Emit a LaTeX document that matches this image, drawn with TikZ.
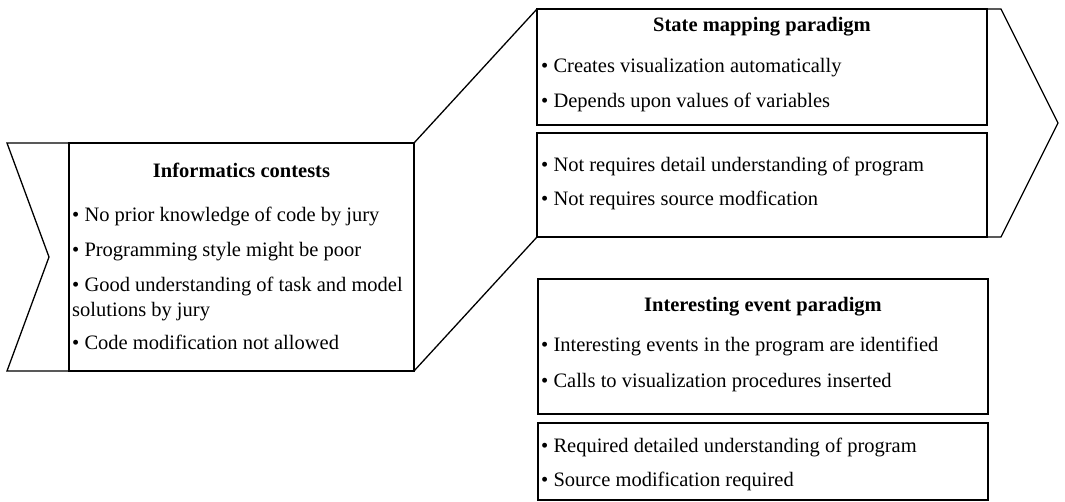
\documentclass[tikz,border=0pt]{standalone}
\usepackage{fontspec}
\setmainfont{Liberation Serif}
\begin{document}
\begin{tikzpicture}[x=1pt,y=-1pt,
  outline/.style={draw=black, line width=1.3pt, line join=miter},
  panel/.style={draw=black, line width=1.3pt, rectangle, inner sep=0pt, outer sep=0pt},
  item/.style={anchor=base west, inner sep=0pt, font=\fontsize{20.5}{25}\selectfont},
  heading/.style={anchor=base, inner sep=0pt, font=\fontsize{20.5}{25}\selectfont\bfseries}]
\useasboundingbox (0,0) rectangle (1065,502);

% left notched block
\node[panel, minimum width=345, minimum height=228] (ic) at (241.5,257) {};
\coordinate (icTL) at (7,143);
\coordinate (icBL) at (7,371);
\coordinate (notch) at (49,257);
\draw[outline] (ic.north west) -- (icTL) -- (notch) -- (icBL) -- (ic.south west);

% state mapping panels
\node[panel, minimum width=450, minimum height=116] (sm1) at (762,67) {};
\node[panel, minimum width=450, minimum height=104] (sm2) at (762,185) {};

% arrow-shaped band around the state mapping panels
\coordinate (tipTop) at (1001,9);
\coordinate (tip) at (1058,123);
\coordinate (tipBot) at (1001,237);
\draw[outline] (ic.north east) -- (sm1.north west) -- (tipTop) -- (tip) -- (tipBot)
  -- (sm2.south west) -- (ic.south east);

% interesting event panels
\node[panel, minimum width=450, minimum height=135] (ie1) at (763,346.5) {};
\node[panel, minimum width=450, minimum height=77] (ie2) at (763,461.5) {};

% texts of the left block
\node[heading] (icT) at (241.5,178) {Informatics contests};
\node[item] (ic1) at (72,222) {• No prior knowledge of code by jury};
\node[item] (ic2) at (72,257) {• Programming style might be poor};
\node[item] (ic3) at (72,292) {• Good understanding of task and model};
\node[item] (ic3b) at (72,317) {solutions by jury};
\node[item] (ic4) at (72,350) {• Code modification not allowed};

% texts of the state mapping panels
\node[heading] (smT) at (762,32) {State mapping paradigm};
\node[item] (sm1a) at (541,73) {• Creates visualization automatically};
\node[item] (sm1b) at (541,108) {• Depends upon values of variables};
\node[item] (sm2a) at (541,172) {• Not requires detail understanding of program};
\node[item] (sm2b) at (541,206) {• Not requires source modfication};

% texts of the interesting event panels
\node[heading] (ieT) at (763,312) {Interesting event paradigm};
\node[item] (ie1a) at (541,352) {• Interesting events in the program are identified};
\node[item] (ie1b) at (541,387) {• Calls to visualization procedures inserted};
\node[item] (ie2a) at (541,452) {• Required detailed understanding of program};
\node[item] (ie2b) at (541,486) {• Source modification required};
\end{tikzpicture}
\end{document}
